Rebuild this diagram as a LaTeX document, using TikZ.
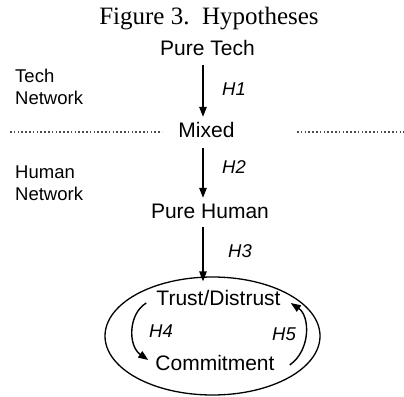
\documentclass[tikz,border=0pt]{standalone}
\usepackage{fontspec}
\setmainfont{Liberation Serif}
\newfontfamily\arialf{Liberation Sans}
\usetikzlibrary{arrows.meta,calc,shapes.geometric}
\begin{document}
\begin{tikzpicture}[x=1pt,y=-1pt,
  mainlbl/.style={font=\arialf\fontsize{21}{25}\selectfont,inner sep=0pt,anchor=base,text height=15pt,text depth=4pt},
  sidelbl/.style={font=\arialf\fontsize{18.5}{22}\selectfont,inner sep=0pt,anchor=north west,align=left},
  hyp/.style={font=\arialf\itshape\fontsize{18.5}{22}\selectfont,inner sep=0pt,anchor=base west},
  arr/.style={line width=1.4pt,-{Triangle[width=7.5pt,length=10pt]}},
  dotline/.style={line width=1.6pt,black!70,dash pattern=on 1.6pt off 2.2pt}]
\useasboundingbox (0,0) rectangle (404,396);
\node[font=\fontsize{25}{30}\selectfont,inner sep=0pt,anchor=base] (title) at (209,25) {Figure 3.\ \ Hypotheses};
\node[mainlbl] (ptech) at (207.5,56) {Pure Tech};
\node[mainlbl] (mixed) at (206.5,137) {Mixed};
\node[mainlbl] (phuman) at (210,218) {Pure Human};
\node[draw,ellipse,line width=1.3pt,minimum width=215pt,minimum height=118pt,inner sep=0pt] (loop) at (212.5,336) {};
\node[mainlbl] (trust) at (218.5,305) {Trust/Distrust};
\node[mainlbl] (commit) at (215,370) {Commitment};
\node[sidelbl] (technet) at (15,68.5) {Tech\\Network};
\node[sidelbl] (humannet) at (15,166) {Human\\Network};
\node[hyp] (h1) at (222,95) {H1};
\node[hyp] (h2) at (222,173) {H2};
\node[hyp] (h3) at (228,257) {H3};
\node[hyp] (h4) at (149,337) {H4};
\node[hyp] (h5) at (272,340) {H5};
\coordinate (ax) at (203,0);
\coordinate (dl1) at (10,132);
\coordinate (dl2) at (162,132);
\coordinate (dr1) at (297,132);
\coordinate (dr2) at (404,132);
\draw[dotline] (dl1) -- (dl2);
\draw[dotline] (dr1) -- (dr2);
\draw[arr,shorten <=5pt,shorten >=5pt] (ptech.south -| ax) -- (mixed.north -| ax);
\draw[arr,shorten <=7pt,shorten >=5pt] (mixed.south -| ax) -- (phuman.north -| ax);
\draw[arr,shorten <=5pt,shorten >=-5pt] (phuman.south -| ax) -- (loop.north -| ax);
\draw[arr] ($(trust.base west)+(-10,-2)$) .. controls (128,314) and (128,346) .. ($(commit.base west)+(-7,-10)$);
\draw[arr] ($(commit.base east)+(15,-5)$) .. controls (311,350) and (310,316) .. ($(trust.base east)+(10,-2)$);
\end{tikzpicture}
\end{document}
